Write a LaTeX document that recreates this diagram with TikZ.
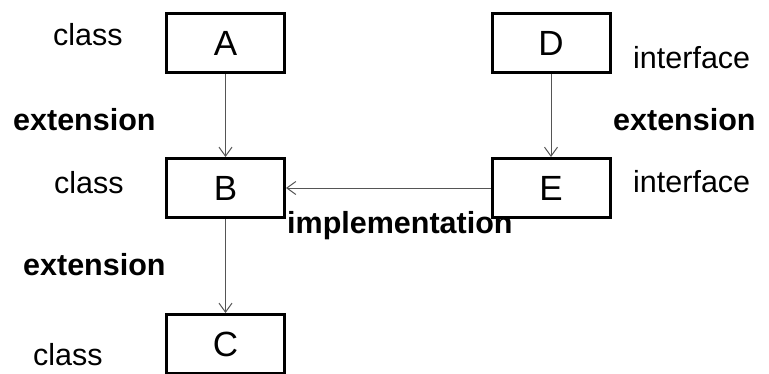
\documentclass[tikz,border=0pt]{standalone}
\usepackage{fontspec}
\setmainfont{Liberation Sans}
\usetikzlibrary{arrows.meta}
\definecolor{linkgray}{HTML}{555555}
\tikzset{
  typebox/.style={draw=black, line width=3pt, minimum width=118pt, minimum height=59pt,
    inner sep=0pt, font=\fontsize{35}{40}\selectfont},
  kindlabel/.style={anchor=base west, inner sep=0pt, font=\fontsize{30.5}{36}\selectfont},
  rellabel/.style={anchor=base west, inner sep=0pt, font=\fontsize{30.5}{36}\selectfont\bfseries},
  link/.style={draw=linkgray, line width=1pt, -{Straight Barb[length=9pt,width=13pt,line width=1pt]}}
}
\begin{document}
\begin{tikzpicture}[x=1pt,y=-1pt]
  \clip (0,0) rectangle (769,373);
  \fill[white] (0,0) rectangle (769,373);

  % class hierarchy
  \node[typebox] (A) at (225.5,43) {A};
  \node[typebox] (B) at (225.5,188) {B};
  \node[typebox] (C) at (225.5,344) {C};
  % interface hierarchy
  \node[typebox] (D) at (551,43) {D};
  \node[typebox] (E) at (551,188) {E};

  \draw[link] (A) -- (B);
  \draw[link] (B) -- (C);
  \draw[link] (D) -- (E);
  \draw[link] (E) -- (B);

  % kinds and relations
  \node[kindlabel] (kA) at (53,45) {class};
  \node[kindlabel] (kB) at (54,193) {class};
  \node[kindlabel] (kC) at (33,365) {class};
  \node[kindlabel] (kD) at (633,68) {interface};
  \node[kindlabel] (kE) at (633,192) {interface};
  \node[rellabel] (rAB) at (13,130) {extension};
  \node[rellabel] (rBC) at (23,275) {extension};
  \node[rellabel] (rDE) at (613,130) {extension};
  \node[rellabel] (rEB) at (287,233) {implementation};
\end{tikzpicture}
\end{document}
